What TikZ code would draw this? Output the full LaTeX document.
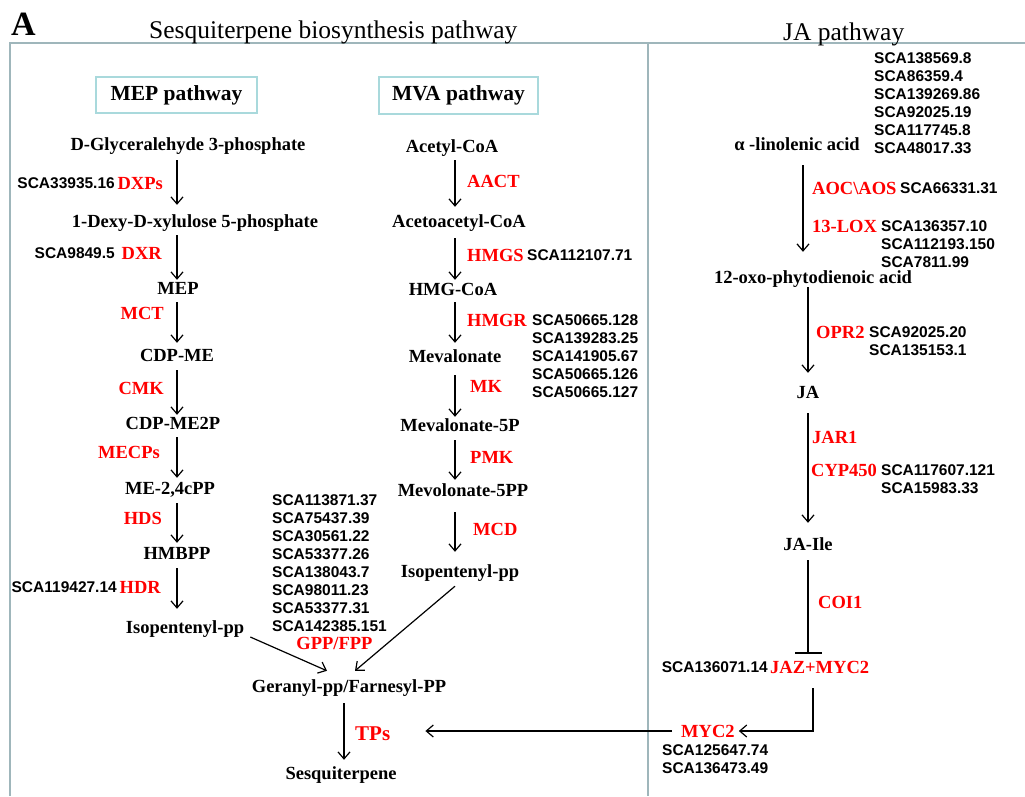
\documentclass[tikz,border=0pt]{standalone}
\usepackage{fontspec}
\setmainfont{Liberation Serif}
\newfontfamily\arialf{Liberation Sans}
\usetikzlibrary{arrows.meta,calc}
\definecolor{framecol}{HTML}{9FB6BB}
\definecolor{boxcol}{HTML}{A9D9DC}
\newcommand\cmpf{\fontsize{18.5}{22}\selectfont\bfseries}
\newcommand\scaf{\arialf\fontsize{15.5}{18}\selectfont\bfseries}
\begin{document}
\begin{tikzpicture}[x=1pt,y=-1pt,
  cmp/.style={font=\cmpf, inner sep=0pt, text height=12pt, text depth=0pt},
  enz/.style={cmp, text=red},
  sca/.style={font=\scaf, inner sep=0pt, text height=11pt, text depth=0pt},
  scal/.style={font=\scaf, inner sep=0pt, align=left, anchor=north west},
  arr/.style={line width=1.2pt, -{Straight Barb[length=7pt,width=12pt]}},
  frame/.style={draw=framecol, line width=2pt},
  pbox/.style={draw=boxcol, line width=1.5pt, font=\fontsize{21.5}{24}\selectfont\bfseries, minimum width=161pt, minimum height=36pt, inner sep=0pt}]
\useasboundingbox (0,0) rectangle (1025,796);
% frame
\draw[frame] (1025,43) -- (10,43) -- (10,796);
\draw[frame] (648,43) -- (648,796);
% titles
\node[anchor=base west, font=\fontsize{34}{40}\selectfont\bfseries, inner sep=0pt] (lblA) at (11,35) {A};
\node[anchor=base west, font=\fontsize{25.5}{30}\selectfont, inner sep=0pt] (t1) at (149,38) {Sesquiterpene biosynthesis pathway};
\node[anchor=base west, font=\fontsize{25.5}{30}\selectfont, inner sep=0pt] (t2) at (783,40) {JA pathway};
\node[pbox] (mepbox) at (176.5,95) {MEP pathway};
\node[pbox, minimum width=159pt, minimum height=37pt] (mvabox) at (458.5,95.5) {MVA pathway};
% compounds
\node[cmp] (dgp) at (188,144) {D-Glyceralehyde 3-phosphate};
\node[cmp] (dxp) at (195,221) {1-Dexy-D-xylulose 5-phosphate};
\node[cmp] (mep) at (178,288) {MEP};
\node[cmp] (cdpme) at (177,355) {CDP-ME};
\node[cmp] (cdpmep) at (173,423) {CDP-ME2P};
\node[cmp] (mecpp) at (170,488) {ME-2,4cPP};
\node[cmp] (hmbpp) at (177,553) {HMBPP};
\node[cmp] (ipl) at (185,627) {Isopentenyl-pp};
\node[cmp] (acoa) at (452,146) {Acetyl-CoA};
\node[cmp] (aacoa) at (459,221) {Acetoacetyl-CoA};
\node[cmp] (hmgcoa) at (453,289) {HMG-CoA};
\node[cmp] (meva) at (455,356) {Mevalonate};
\node[cmp] (meva5p) at (460,425) {Mevalonate-5P};
\node[cmp] (meva5pp) at (463,490) {Mevolonate-5PP};
\node[cmp] (ipr) at (460,571) {Isopentenyl-pp};
\node[cmp] (gfp) at (349,686) {Geranyl-pp/Farnesyl-PP};
\node[cmp] (sesq) at (341,773) {Sesquiterpene};
\node[cmp] (aln) at (797,144) {α -linolenic acid};
\node[cmp] (opda) at (813,277) {12-oxo-phytodienoic acid};
\node[cmp] (ja) at (808,392) {JA};
\node[cmp] (jaile) at (808,544) {JA-Ile};
% MEP enzymes
\node[enz, anchor=east] (dxps) at (163,183) {DXPs};
\node[sca, anchor=east] (s1) at (115,183) {SCA33935.16};
\node[enz, anchor=east] (dxr) at (162,253) {DXR};
\node[sca, anchor=east] (s2) at (115,253) {SCA9849.5};
\node[enz, anchor=east] (mct) at (164,313) {MCT};
\node[enz, anchor=east] (cmk) at (164,388) {CMK};
\node[enz, anchor=east] (mecps) at (160,452) {MECPs};
\node[enz, anchor=east] (hds) at (162,518) {HDS};
\node[enz, anchor=east] (hdr) at (161,587) {HDR};
\node[sca, anchor=east] (s3) at (117,587) {SCA119427.14};
% MVA enzymes
\node[enz, anchor=west] (aact) at (467,181) {AACT};
\node[enz, anchor=west] (hmgs) at (467,255) {HMGS};
\node[sca, anchor=west] (s4) at (527,255) {SCA112107.71};
\node[enz, anchor=west] (hmgr) at (467,320) {HMGR};
\node[scal] (s5) at (532,314.5) {SCA50665.128\\SCA139283.25\\SCA141905.67\\SCA50665.126\\SCA50665.127};
\node[enz, anchor=west] (mk) at (470,386) {MK};
\node[enz, anchor=west] (pmk) at (470,457) {PMK};
\node[enz, anchor=west] (mcd) at (473,529) {MCD};
\node[scal] (s6) at (272,494.5) {SCA113871.37\\SCA75437.39\\SCA30561.22\\SCA53377.26\\SCA138043.7\\SCA98011.23\\SCA53377.31\\SCA142385.151};
\node[enz] (gpp) at (334.5,643) {GPP/FPP};
\node[enz, anchor=west, font=\fontsize{21}{24}\selectfont\bfseries, text height=14pt] (tps) at (355,733) {TPs};
% JA enzymes
\node[scal] (s7) at (874,52.5) {SCA138569.8\\SCA86359.4\\SCA139269.86\\SCA92025.19\\SCA117745.8\\SCA48017.33};
\node[enz, anchor=west] (aoc) at (812,188) {AOC\textbackslash AOS};
\node[sca, anchor=west] (s8) at (900,188) {SCA66331.31};
\node[enz, anchor=west] (lox) at (812,226) {13-LOX};
\node[scal] (s9) at (881,220.5) {SCA136357.10\\SCA112193.150\\SCA7811.99};
\node[enz, anchor=west] (opr) at (816,332) {OPR2};
\node[scal] (s10) at (869,326.5) {SCA92025.20\\SCA135153.1};
\node[enz, anchor=west] (jar) at (812,437) {JAR1};
\node[enz, anchor=west] (cyp) at (811,470) {CYP450};
\node[scal] (s11) at (881,464.5) {SCA117607.121\\SCA15983.33};
\node[enz, anchor=west] (coi) at (818,602) {COI1};
\node[enz, anchor=west] (jaz) at (770,667) {JAZ+MYC2};
\node[sca, anchor=east] (s12) at (768,667) {SCA136071.14};
\node[enz, anchor=west] (myc) at (681,731) {MYC2};
\node[scal] (s13) at (662,744.5) {SCA125647.74\\SCA136473.49};
% column coordinates
\coordinate (cM) at (177,0);
\coordinate (cV) at (455,0);
\coordinate (cG) at (344,0);
\coordinate (cJa) at (803,0);
\coordinate (cJ) at (808,0);
\coordinate (cJz) at (813,0);
% MEP arrows
\draw[arr, shorten <=10pt, shorten >=10pt] (dgp.south -| cM) -- (dxp.north -| cM);
\draw[arr, shorten <=8pt, shorten >=2pt] (dxp.south -| cM) -- (mep.north -| cM);
\draw[arr, shorten <=8pt, shorten >=6pt] (mep.south -| cM) -- (cdpme.north -| cM);
\draw[arr, shorten <=9pt, shorten >=2pt] (cdpme.south -| cM) -- (cdpmep.north -| cM);
\draw[arr, shorten <=8pt, shorten >=4pt] (cdpmep.south -| cM) -- (mecpp.north -| cM);
\draw[arr, shorten <=9pt, shorten >=4pt] (mecpp.south -| cM) -- (hmbpp.north -| cM);
\draw[arr, shorten <=9pt, shorten >=12pt] (hmbpp.south -| cM) -- (ipl.north -| cM);
% MVA arrows
\draw[arr, shorten <=8pt, shorten >=8pt] (acoa.south -| cV) -- (aacoa.north -| cV);
\draw[arr, shorten <=11pt, shorten >=3pt] (aacoa.south -| cV) -- (hmgcoa.north -| cV);
\draw[arr, shorten <=7pt, shorten >=7pt] (hmgcoa.south -| cV) -- (meva.north -| cV);
\draw[arr, shorten <=13pt, shorten >=2pt] (meva.south -| cV) -- (meva5p.north -| cV);
\draw[arr, shorten <=9pt, shorten >=4pt] (meva5p.south -| cV) -- (meva5pp.north -| cV);
\draw[arr, shorten <=16pt, shorten >=13pt] (meva5pp.south -| cV) -- (ipr.north -| cV);
% to GPP/FPP and sesquiterpene
\draw[arr] ($(ipl.east)+(6,10)$) -- ($(gfp.north)+(-22,-9)$);
\draw[arr] ($(ipr.south)+(-5,9)$) -- ($(gfp.north)+(6,-9)$);
\draw[arr, shorten <=11pt, shorten >=7pt] (gfp.south -| cG) -- (sesq.north -| cG);
% JA arrows
\draw[arr, shorten <=15pt, shorten >=19pt] (aln.south -| cJa) -- (opda.north -| cJa);
\draw[arr, shorten <=4pt, shorten >=13pt] (opda.south -| cJ) -- (ja.north -| cJ);
\draw[arr, shorten <=15pt, shorten >=15pt] (ja.south -| cJ) -- (jaile.north -| cJ);
\draw[line width=1.2pt, -{Bar[width=27pt,line width=1.5pt]}, shorten <=10pt, shorten >=7pt] (jaile.south -| cJ) -- (jaz.north -| cJ);
\draw[arr, shorten <=15pt, shorten >=4pt] (jaz.south -| cJz) |- (myc.east);
\draw[arr, shorten <=9pt, shorten >=35pt] (myc.west) -- (myc.west -| tps.east);
\end{tikzpicture}
\end{document}
